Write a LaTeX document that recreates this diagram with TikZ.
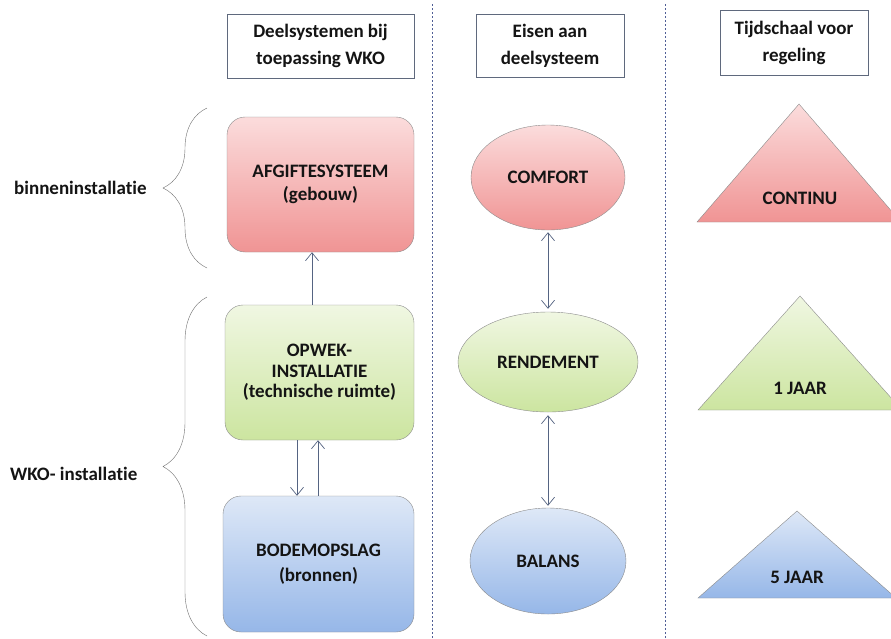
\documentclass[tikz,border=0pt]{standalone}
\usepackage{fontspec}
\setmainfont[Ligatures=NoCommon]{Carlito}
\usetikzlibrary{shapes.geometric,decorations.pathreplacing,arrows.meta}

\definecolor{kader}{RGB}{95,105,125}
\definecolor{rand}{RGB}{140,140,140}
\definecolor{pijlkleur}{RGB}{85,100,130}
\definecolor{stippel}{RGB}{80,95,150}
\definecolor{rozeboven}{RGB}{251,220,220}
\definecolor{rozeonder}{RGB}{240,148,148}
\definecolor{groenboven}{RGB}{240,247,226}
\definecolor{groenonder}{RGB}{204,229,160}
\definecolor{blauwboven}{RGB}{222,232,247}
\definecolor{blauwonder}{RGB}{150,183,232}
\definecolor{tekst}{RGB}{20,20,20}

\tikzset{
	kop/.style={draw=kader, fill=white, align=center, inner sep=0pt, font=\fontsize{19}{27}\selectfont\bfseries},
	blok/.style={draw=rand, rounded corners=18pt, align=center, inner sep=0pt, minimum width=189pt, minimum height=135pt},
	eis/.style={draw=rand, ellipse, inner sep=0pt},
	roze/.style={top color=rozeboven, bottom color=rozeonder},
	groen/.style={top color=groenboven, bottom color=groenonder},
	blauw/.style={top color=blauwboven, bottom color=blauwonder},
	pijl/.style={draw=pijlkleur, line width=0.7pt, -{Straight Barb[length=8pt,width=13pt]}},
	dubbelpijl/.style={draw=pijlkleur, line width=0.7pt, {Straight Barb[length=8pt,width=13pt]}-{Straight Barb[length=8pt,width=13pt]}},
	accolade/.style={draw=rand!80!black, decorate, decoration={brace, amplitude=44pt}},
}

\begin{document}
\begin{tikzpicture}[x=1pt, y=-1pt, font=\fontsize{19}{23}\selectfont\bfseries, text=tekst]
		\useasboundingbox[fill=white] (0,0) rectangle (891,638);

		\draw[stippel, dash pattern=on 2pt off 2pt] (432,4) -- (432,638);
		\draw[stippel, dash pattern=on 2pt off 2pt] (665,4) -- (665,638);

		\node[kop, minimum width=187pt, minimum height=64pt] (hdrdeel) at (320.5,46) {Deelsystemen bij\\toepassing WKO};
		\node[kop, minimum width=148pt, minimum height=63pt] (hdreisen) at (550,45.5) {Eisen aan\\deelsysteem};
		\node[kop, minimum width=148pt, minimum height=65pt] (hdrtijd) at (794,42.5) {Tijdschaal voor\\regeling};

		\draw[accolade] (207,268) -- (207,108);
		\node[anchor=west, inner sep=0pt] (binnen) at (14,188) {binneninstallatie};
		\draw[accolade] (207,636) -- (207,297);
		\node[anchor=west, inner sep=0pt] (wko) at (10,474) {WKO- installatie};

		\node[blok, roze, minimum width=187pt] (afgifte) at (320.5,184.5) {AFGIFTESYSTEEM\\(gebouw)};
		\node[blok, groen, font=\fontsize{19}{20.5}\selectfont\bfseries] (opwek) at (319.5,372.5) {OPWEK-\\INSTALLATIE\\(technische ruimte)};
		\node[blok, blauw, minimum width=191pt, minimum height=136pt, font=\fontsize{19}{25}\selectfont\bfseries] (bodem) at (318.5,564) {BODEMOPSLAG\\(bronnen)};

		\draw[pijl] ([xshift=-7.5pt]opwek.north) -- ([xshift=-8.5pt]afgifte.south);
		\draw[pijl] ([xshift=-22.5pt]opwek.south) -- ([xshift=-21.5pt]bodem.north);
		\draw[pijl] ([xshift=-0.5pt]bodem.north) -- ([xshift=-1.5pt]opwek.south);

		\node[eis, roze, minimum width=154pt, minimum height=105pt] (comfort) at (548,177.5) {COMFORT};
		\node[eis, groen, minimum width=180pt, minimum height=100pt] (rendement) at (548,362) {RENDEMENT};
		\node[eis, blauw, minimum width=156pt, minimum height=106pt] (balans) at (548,561) {BALANS};

		\draw[dubbelpijl, shorten <=2pt, shorten >=3pt] (comfort) -- (rendement);
		\draw[dubbelpijl, shorten <=3pt, shorten >=2pt] (rendement) -- (balans);

		\draw[rand, roze] (697,222) -- (799,104) -- (901,222) -- cycle;
		\node (continu) at (800,198) {CONTINU};
		\draw[rand, groen] (698,410) -- (800,296) -- (902,410) -- cycle;
		\node (jaareen) at (800,388) {1 JAAR};
		\draw[rand, blauw] (698,598) -- (797,511) -- (896,598) -- cycle;
		\node (jaarvijf) at (797,577) {5 JAAR};
\end{tikzpicture}
\end{document}
